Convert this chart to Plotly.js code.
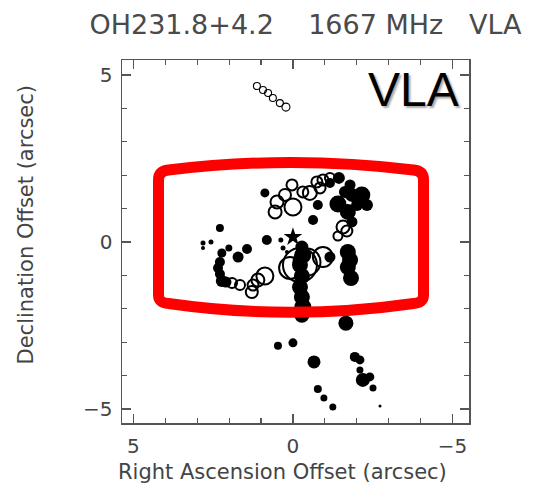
<!DOCTYPE html>
<html>
<head>
<meta charset="utf-8">
<script src="https://cdn.plot.ly/plotly-3.0.1.min.js"></script>
<style>html,body{margin:0;padding:0;background:#fff;}</style>
</head>
<body>
<div id="chart" style="width:545px;height:485px;"></div>
<script>
// Filled (black) maser spots: RA offset, Dec offset (arcsec), relative strength
const raFilled  = [0.88,-0.78,-0.63,
                   -1.44,-1.79,-2.16,-1.41,-1.72,-2.01,-1.63,-1.85,-1.85,-1.16,-2.32,
                   2.29,0.82,0.38,2.82,2.57,2.82,0.31,0.19,2.01,2.23,1.44,1.72,2.29,2.35,2.29,2.23,2.10,
                   -0.28,-0.31,-0.22,-0.28,-0.22,-0.28,-0.31,-0.28,-1.16,-1.72,-1.79,-1.72,-1.82,
                   -1.66,0.47,0.00,-0.66,-1.94,-2.10,-2.10,-2.19,-2.41,-2.51,-0.78,-0.97,-1.25,-2.73];
const decFilled = [1.47,1.11,0.66,
                   1.92,1.71,1.41,1.14,0.90,1.11,1.50,0.60,1.41,1.77,1.11,
                   0.42,0.06,0.06,-0.03,0.00,-0.18,-0.18,-0.30,-0.18,-0.33,-0.21,-0.45,-0.60,-0.78,-0.96,-1.17,-1.20,
                   -0.15,-0.39,-0.69,-1.02,-1.35,-1.65,-1.95,-2.19,-0.45,-0.30,-0.54,-0.75,-1.08,
                   -2.43,-3.11,-3.02,-3.59,-3.44,-3.53,-3.83,-4.13,-4.04,-4.37,-4.40,-4.67,-4.94,-4.91];
const sizeFilled = [9,10,10,
                    12,11,17,17,16,12,12,11,14,10,12,
                    8,10,5,5,5,4,5,4,7,9,10,11,10,10,10,12,11,
                    13,17,16,16,16,16,17,15,11,16,16,16,16,
                    15,8,9,13,10,9,7,14,9,7,8,7,7,3];

// Open maser spots
const raOpen   = [0.50,0.56,0.25,0.00,0.03,-0.31,-0.53,-0.75,-0.94,-1.16,-0.85,-1.57,-1.69,-1.41,
                  1.91,1.66,1.29,1.25,1.10,0.88,
                  -0.22,-0.44,0.09,-0.94,
                  1.13,0.94,0.78,0.63,0.41,0.22];
const decOpen  = [1.20,0.90,1.41,1.05,1.71,1.50,1.47,1.80,1.86,1.92,1.62,0.45,0.33,0.18,
                  -1.23,-1.29,-1.50,-1.29,-1.14,-1.02,
                  -0.69,-0.60,-0.78,-0.45,
                  4.67,4.55,4.46,4.31,4.16,4.04];
const sizeOpen = [13,13,12,17,11,11,14,11,11,10,11,13,11,9,
                  10,10,12,11,13,17,
                  34,27,22,20,
                  7,7,7,7,7,8];

// Central star position
const raStar = [0.0];
const decStar = [0.15];

const titleText = 'OH231.8+4.2\u00a0\u00a0\u00a0\u00a01667 MHz\u00a0\u00a0\u00a0VLA';
const xTitle = 'Right Ascension Offset (arcsec)';
const yTitle = 'Declination Offset (arcsec)';
const xTicks = [5, 0, -5];
const yTicks = [-5, 0, 5];

// plot-area geometry (pixels) for layout helpers
const L = 122, R = 469, T = 60, B = 423;
const px = x => (x - L) / (R - L);
const py = y => (B - y) / (B - T);
const P = (x, y) => px(x).toFixed(4) + ',' + py(y).toFixed(4);

const boxPath = 'M ' + P(158.5, 295) +
  ' L ' + P(158.5, 180) +
  ' Q ' + P(158.5, 171) + ' ' + P(168.5, 170) +
  ' Q ' + P(291, 155) + ' ' + P(413.5, 170) +
  ' Q ' + P(423.5, 171) + ' ' + P(423.5, 180) +
  ' L ' + P(423.5, 295) +
  ' Q ' + P(423.5, 303) + ' ' + P(413.5, 303.5) +
  ' Q ' + P(291, 321) + ' ' + P(168.5, 303.5) +
  ' Q ' + P(158.5, 303) + ' ' + P(158.5, 295) + ' Z';

const tickFont = {family: 'DejaVu Sans, sans-serif', size: 20, color: '#444'};
const axisCommon = {
  showgrid: false, zeroline: false, showline: true, mirror: 'ticks',
  linecolor: '#555', linewidth: 1.5,
  ticks: 'inside', ticklen: 9, tickwidth: 1.5, tickcolor: '#555',
  minor: {dtick: 1, ticks: 'inside', ticklen: 5, tickwidth: 1.2, tickcolor: '#555'},
  tickfont: tickFont, tickmode: 'array', ticklabelstandoff: 4
};

const data = [
  {type: 'scatter', mode: 'markers', x: raFilled, y: decFilled,
   marker: {symbol: 'circle', color: '#000', size: sizeFilled, opacity: 1, line: {width: 0}},
   hoverinfo: 'x+y', showlegend: false},
  {type: 'scatter', mode: 'markers', x: raOpen, y: decOpen,
   marker: {symbol: 'circle-open', color: '#000', size: sizeOpen, opacity: 1,
            line: {width: sizeOpen.map(s => s < 9 ? 1.1 : 2), color: sizeOpen.map(s => s < 9 ? '#555' : '#000')}},
   hoverinfo: 'x+y', showlegend: false},
  {type: 'scatter', mode: 'markers', x: raStar, y: decStar,
   marker: {symbol: 'star', color: '#000', size: 14, opacity: 1},
   hoverinfo: 'x+y', showlegend: false}
];

const layout = {
  width: 545, height: 485, autosize: false,
  margin: {l: L, r: 545 - R, t: T, b: 485 - B, pad: 0},
  paper_bgcolor: '#fff', plot_bgcolor: '#fff',
  title: {text: titleText, font: {family: 'DejaVu Sans, sans-serif', size: 27, color: '#4a4a4a'},
          xref: 'paper', x: px(305.5), xanchor: 'center', yref: 'container', y: 1 - 25 / 485, yanchor: 'middle'},
  xaxis: Object.assign({}, axisCommon, {range: [5.36, -5.52], tickvals: xTicks, ticktext: xTicks.map(v => v < 0 ? '\u2212' + Math.abs(v) : String(v))}),
  yaxis: Object.assign({}, axisCommon, {range: [-5.42, 5.45], tickvals: yTicks, ticktext: yTicks.map(v => v < 0 ? '\u2212' + Math.abs(v) : String(v))}),
  shapes: [{type: 'path', xref: 'paper', yref: 'paper', path: boxPath,
            line: {color: '#ff0000', width: 11}, fillcolor: 'rgba(0,0,0,0)', layer: 'above'}],
  annotations: [
    {text: xTitle, xref: 'paper', yref: 'paper', x: px(282.5), y: py(472), xanchor: 'center', yanchor: 'middle',
     showarrow: false, font: {family: 'DejaVu Sans, sans-serif', size: 21, color: '#444'}},
    {text: yTitle, xref: 'paper', yref: 'paper', x: px(25.5), y: py(225), xanchor: 'center', yanchor: 'middle',
     textangle: -90, showarrow: false, font: {family: 'DejaVu Sans, sans-serif', size: 21, color: '#444'}},
    {text: 'VLA', xref: 'paper', yref: 'paper', x: px(413), y: py(89), xanchor: 'center', yanchor: 'middle',
     showarrow: false, font: {family: 'Liberation Sans, Arial, sans-serif', size: 48, color: '#000', shadow: '2px 2px 2px #aaa'}}
  ]
};

Plotly.newPlot('chart', data, layout, {displayModeBar: false, staticPlot: true});
</script>
</body>
</html>
